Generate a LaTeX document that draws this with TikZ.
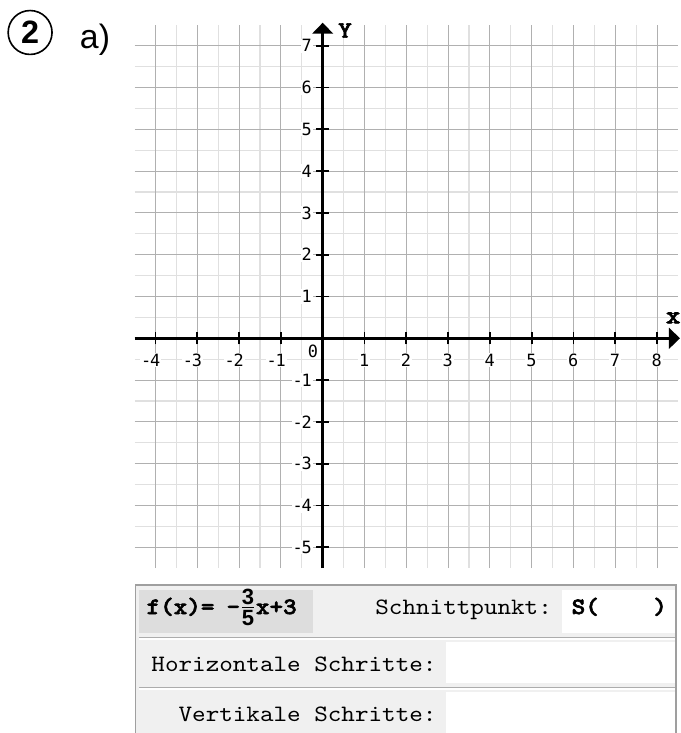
\documentclass[tikz,border=0pt]{standalone}
\usepackage{fontspec}
\usepackage{amsmath}
\usetikzlibrary{arrows.meta}
\newfontfamily\tickfont{DejaVu Sans Mono}
\newfontfamily\arialfont{Liberation Sans}
\newfontfamily\courfont{lmmono10-regular}[Extension=.otf,BoldFont=lmmonolt10-bold,
  BoldFeatures={FakeBold=2.5},FakeStretch=1.1]
\newcommand\chiffre[1]{\mbox{\arialfont\bfseries\fontsize{15}{15}\selectfont#1}}
\tikzset{
  minorgrid/.style={gray!24, line width=0.7pt},
  majorgrid/.style={gray!62, line width=0.7pt},
  axe/.style={line width=2.2pt, -{Triangle[length=7.5pt,width=14pt]}},
  graduation/.style={line width=1.3pt},
  etiq/.style={font=\tickfont\fontsize{11.5}{12}\selectfont, fill=white, inner sep=0.6pt},
  texte/.style={font=\courfont\fontsize{16}{17}\selectfont, inner sep=0pt},
}
\begin{document}
\begin{tikzpicture}
        \useasboundingbox (-7.7201,-9.4426) rectangle (8.5478,8.0933);
        % Numero de l'exercice
        \node[draw, circle, line width=1.1pt, minimum size=1.05cm, inner sep=0pt,
              font=\arialfont\bfseries\fontsize{22}{24}\selectfont] (numero) at (-7.0,7.316) {2};
        \node[font=\arialfont\fontsize{23}{25}\selectfont, inner sep=0pt] (partie) at (-5.447,7.15) {a)};
        % Quadrillage
        \foreach \x in {-3.5,-2.5,...,7.5} \draw[minorgrid] (\x,-5.5) -- (\x,7.5);
        \foreach \y in {-4.5,-3.5,...,6.5} \draw[minorgrid] (-4.5,\y) -- (8.5,\y);
        \foreach \x in {-4,...,8} \draw[majorgrid] (\x,-5.5) -- (\x,7.5);
        \foreach \y in {-5,...,7} \draw[majorgrid] (-4.5,\y) -- (8.5,\y);
        % Axes
        \coordinate (xmin) at (-4.5,0);
        \coordinate (xmax) at (8.5478,0);
        \coordinate (ymin) at (0,-5.5);
        \coordinate (ymax) at (0,7.55);
        \draw[axe] (xmin) -- (xmax);
        \draw[axe] (ymin) -- (ymax);
        \node[font=\courfont\bfseries\fontsize{17}{17}\selectfont, inner sep=0pt] (labx) at (8.385,0.486) {x};
        \node[font=\courfont\bfseries\fontsize{16}{16}\selectfont, inner sep=0pt] (laby) at (0.533,7.364) {Y};
        % Graduations
        \foreach \x in {-4,...,-1,1,2,...,8} \draw[graduation] (\x,-0.144) -- (\x,0.144);
        \foreach \y in {-5,...,-1,1,2,...,7} \draw[graduation] (-0.155,\y) -- (0.155,\y);
        \foreach \x in {1,...,4} \node[etiq, anchor=east] (gxm\x) at (-\x+0.143,-0.519) {-\kern-0.8pt\x};
        \foreach \x in {1,...,8} \node[etiq, anchor=east] (gx\x) at (\x+0.143,-0.519) {\x};
        \foreach \y in {1,...,5} \node[etiq, anchor=east] (gym\y) at (-0.235,-\y) {-\kern-0.8pt\y};
        \foreach \y in {1,...,7} \node[etiq, anchor=east] (gy\y) at (-0.235,\y) {\y};
        \node[etiq] (origine) at (-0.232,-0.32) {0};
        % Tableau
        \draw[gray!75, fill=gray!12, line width=0.8pt] (-4.488,-9.6) rectangle (8.452,-5.902);
        \fill[gray!27] (-4.392,-7.050) rectangle (-0.239,-6.022);
        \fill[white] (5.732,-7.050) rectangle (8.428,-6.022);
        \fill[white] (2.950,-8.246) rectangle (8.428,-7.258);
        \fill[white] (2.950,-9.6) rectangle (8.428,-8.455);
        \draw[gray!65, line width=1pt] (-4.392,-7.163) -- (8.428,-7.163);
        \draw[white, line width=1pt] (-4.392,-7.19) -- (8.428,-7.19);
        \draw[gray!65, line width=1pt] (-4.392,-8.359) -- (8.428,-8.359);
        \draw[white, line width=1pt] (-4.392,-8.386) -- (8.428,-8.386);
        \node[texte, anchor=base west] (fonction) at (-4.22,-6.596)
            {\bfseries f(x)=\kern-1pt\ -$\genfrac{}{}{1.1pt}{}{\chiffre{3}}{\chiffre{5}}$x+3};
        \node[texte, anchor=base east] (schnitt) at (5.49,-6.596) {Schnittpunkt:};
        \node[texte, anchor=base west] (punkt) at (5.95,-6.596) {\bfseries S(};
        \node[texte, anchor=base east] (punktfin) at (8.24,-6.596) {\bfseries )};
        \node[texte, anchor=base east] (horiz) at (2.73,-7.96) {Horizontale Schritte:};
        \node[texte, anchor=base east] (vert) at (2.73,-9.172) {Vertikale Schritte:};
    \end{tikzpicture}
\end{document}
